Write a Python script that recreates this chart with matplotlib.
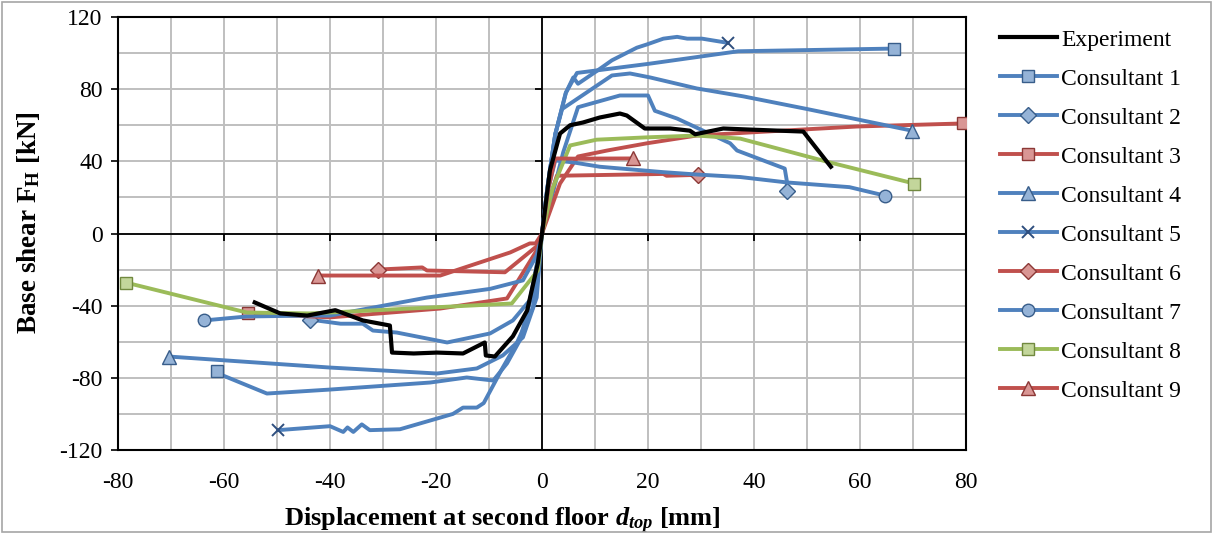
import matplotlib
matplotlib.use("Agg")
import matplotlib.pyplot as plt
from matplotlib.lines import Line2D
from matplotlib.patches import Rectangle

# Courbes (déplacement en mm, effort en kN)
exp_x = [-54.2, -49.4, -44.3, -39, -33.8, -28.7, -28.3, -24.2, -19.8, -14.9, -10.8, -10.6, -8.9,
         -5.5, -2.8, -0.8, 0, 1.5, 3.4, 5.3, 7.7, 10.9, 14.7, 16, 19.4, 24.2, 27.9, 28.9, 34.2,
         39.2, 49.3, 54.5]
exp_y = [-38.2, -44.3, -45.5, -42.5, -48.2, -51, -66, -66.5, -66, -66.5, -60.4, -67.6, -68.2,
         -57, -42.7, -16.6, 0, 35, 55.4, 60, 61.5, 64.3, 66.5, 65.4, 58.2, 58.2, 57, 55, 58.2,
         57.6, 56.5, 37]

c1_x = [-61.3, -60.2, -51.9, -40, -21.1, -14.2, -9.2, -6.6, -4.2, -2, 0, 1, 2.5, 4.5, 6.6, 20, 37, 66.4]
c1_y = [-76, -78.7, -88.7, -86.5, -82.6, -79.8, -81.5, -72, -59.3, -35, 0, 25, 55, 78, 89, 94, 101, 102.5]

c2_x = [-43.8, -38, -33.8, -31.9, -27.4, -17.9, -9.8, -5.5, -2.3, -0.8, 0, 2, 4, 6.8, 14.7, 20,
        21.3, 25.5, 30.4, 35.5, 36.8, 45.8, 46.2, 46.2]
c2_y = [-47.7, -50, -50, -53.8, -54.9, -60.4, -55.4, -48.2, -37, -15, 0, 22, 45, 70, 76.5, 76.5,
        68, 63.7, 57, 50, 46, 36, 29, 23.8]

c3_x = [-55.5, -40, -19.2, -6.6, -1, 0, 3.4, 6.8, 12.3, 19.8, 29.2, 39.2, 59.4, 79.4]
c3_y = [-44.3, -46.5, -41.6, -36, -9.4, 0, 27.7, 42.7, 46, 50, 54.3, 56, 59.3, 61]

c4_x = [-70.4, -40, -19.8, -12.3, -7.4, -3.6, -1, 0, 1, 2.5, 3.8, 13.2, 16.6, 20.4, 29.2, 38, 50, 69.8]
c4_y = [-68.2, -74.3, -77.6, -74.8, -67.6, -57.6, -35.5, 0, 25, 55, 69, 87.6, 88.7, 86.5, 80.4, 76, 69, 57]

c5_x = [-49.8, -40, -37.5, -36.7, -35.6, -34, -32.5, -26.8, -16.8, -14.9, -12.3, -11, -7.4, -4.8,
        -1.7, 0, 1, 2.5, 4.5, 5.9, 6.8, 10.3, 13.2, 17.9, 19.8, 22.9, 25.5, 27.4, 30.2, 35]
c5_y = [-109, -106.8, -110, -107.5, -110, -105.8, -109, -108.5, -100, -96.5, -96.5, -94, -74.3, -61,
        -41, 0, 25, 55, 78, 86.5, 83, 90, 96, 103, 104.8, 108, 109, 108, 108, 105.7]

c6_x = [-31, -22.6, -21.7, -7, -0.8, 0, 1.5, 2.8, 22.9, 23.5, 29.4]
c6_y = [-20, -18.8, -20.5, -21.5, -6.6, 0, 20, 32, 33, 32, 32.5]

c7_x = [-63.8, -55.7, -44, -40, -21.7, -9.8, -3.6, -1, 0, 1.2, 2.5, 5.9, 10.9, 22.9, 29.2, 37.4,
        46.2, 58, 64.7]
c7_y = [-48.2, -46, -45.5, -45.5, -35.5, -30.7, -26, -12, 0, 25, 40.5, 39.4, 37, 34, 32.7, 31.3,
        28.3, 25.7, 21]

c8_x = [-78.5, -55.7, -43.8, -40, -5.7, -0.8, 0, 2, 5.3, 10.3, 19.8, 29.2, 37.4, 54.3, 70.2]
c8_y = [-27.2, -43.8, -44.3, -43.8, -38.8, -20.5, 0, 25, 48.8, 52, 53.3, 54.3, 52.6, 39.4, 27.7]

c9_x = [-42.3, -19.2, -6, -2.3, -1.2, 0, 1.2, 2.5, 6, 17.2]
c9_y = [-23.3, -23.3, -10.5, -5.5, -5.5, 0, 25, 41.6, 41.5, 41.6]

x_ticks = [-80, -60, -40, -20, 0, 20, 40, 60, 80]
y_ticks = [-120, -80, -40, 0, 40, 80, 120]

# Couleurs style Excel
bleu, rouge, vert = '#4F81BD', '#C0504D', '#9BBB59'
styles = {
    'bleu': dict(color=bleu, mfc='#95B3D7', mec='#385D8A'),
    'rouge': dict(color=rouge, mfc='#D99694', mec='#8C3836'),
    'vert': dict(color=vert, mfc='#C3D69B', mec='#71893F'),
}

consultants = [
    ('Consultant 1', c1_x, c1_y, 'bleu', 's'),
    ('Consultant 2', c2_x, c2_y, 'bleu', 'D'),
    ('Consultant 3', c3_x, c3_y, 'rouge', 's'),
    ('Consultant 4', c4_x, c4_y, 'bleu', '^'),
    ('Consultant 5', c5_x, c5_y, 'bleu', 'x'),
    ('Consultant 6', c6_x, c6_y, 'rouge', 'D'),
    ('Consultant 7', c7_x, c7_y, 'bleu', 'o'),
    ('Consultant 8', c8_x, c8_y, 'vert', 's'),
    ('Consultant 9', c9_x, c9_y, 'rouge', '^'),
]
tailles = {'s': 9, 'D': 8.5, '^': 10, 'x': 9, 'o': 9}

plt.rcParams['font.family'] = ['Liberation Serif', 'DejaVu Serif']
plt.rcParams['axes.unicode_minus'] = False
plt.rcParams['mathtext.fontset'] = 'custom'
plt.rcParams['mathtext.it'] = 'Liberation Serif:bold:italic'
plt.rcParams['mathtext.bf'] = 'Liberation Serif:bold'
plt.rcParams['mathtext.rm'] = 'Liberation Serif:bold'

fig = plt.figure(figsize=(12.15, 5.34), dpi=100)
ax = fig.add_axes([118 / 1215, 84 / 534, 848 / 1215, 433 / 534])

handles = [Line2D([], [], color='black', lw=3)]
labels = ['Experiment']

for nom, xs, ys, coul, mk in consultants:
    st = styles[coul]
    if mk == 'x':
        kw = dict(marker='x', mec='#2F4F7F', mew=1.4, ms=tailles[mk])
    else:
        kw = dict(marker=mk, mfc=st['mfc'], mec=st['mec'], mew=1.0, ms=tailles[mk])
    ax.plot(xs, ys, color=st['color'], lw=2.8, markevery=[0, len(xs) - 1], zorder=3, **kw)
    handles.append(Line2D([], [], color=st['color'], lw=2.8, **kw))
    labels.append(nom)

ax.plot(exp_x, exp_y, color='black', lw=3, zorder=4)

# Axes passant par l'origine avec leurs graduations
ax.axhline(0, color='black', lw=1.3, zorder=2)
ax.axvline(0, color='black', lw=1.3, zorder=2)
tx = [t for t in x_ticks if t not in (-80, 0, 80)]
ty = [t for t in y_ticks if t not in (-120, 0, 120)]
ax.plot(tx, [0] * len(tx), ls='none', marker=3, ms=5, mew=1.3, color='black', zorder=2)
ax.plot([0] * len(ty), ty, ls='none', marker=0, ms=5, mew=1.3, color='black', zorder=2)

ax.set_xlim(-80, 80)
ax.set_ylim(-120, 120)
ax.set_xticks(x_ticks)
ax.set_yticks(y_ticks)
ax.set_xticks(range(-80, 81, 10), minor=True)
ax.set_yticks(range(-120, 121, 20), minor=True)
ax.grid(True, which='both', color='#BFBFBF', lw=1.4, zorder=0)
ax.set_axisbelow(True)
ax.tick_params(axis='x', which='both', length=0, labelsize=17, pad=16)
ax.tick_params(axis='y', which='major', length=5, width=1.2, labelsize=17, pad=6)
ax.tick_params(axis='y', which='minor', length=0)
for sp in ax.spines.values():
    sp.set_linewidth(1.5)

ax.set_xlabel(r'Displacement at second floor $d_{top}$ [mm]', fontsize=19, fontweight='bold')
ax.xaxis.set_label_coords((502 - 118) / 848, -0.13)
ax.set_ylabel(r'Base shear $\mathbf{F}_\mathbf{H}$ [kN]', fontsize=19.5, fontweight='bold')
ax.yaxis.set_label_coords(-0.09, 0.525)

fig.legend(handles, labels, loc='upper left', bbox_to_anchor=(1000 / 1215, 1 - 29 / 534),
           frameon=False, fontsize=17, handlelength=2.4, handletextpad=0.2,
           labelspacing=0.74, borderaxespad=0, borderpad=0)

fig.patches.append(Rectangle((0.002, 0.004), 0.995, 0.992, transform=fig.transFigure,
                             fill=False, ec='#A6A6A6', lw=1.2))

fig.savefig('out.png', dpi=100)
